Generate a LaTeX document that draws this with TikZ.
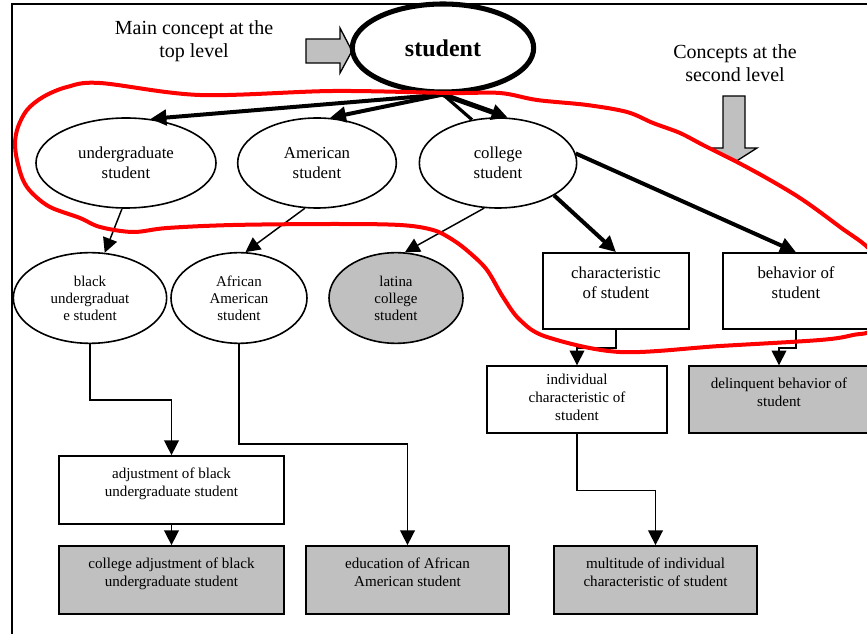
\documentclass[tikz,border=0pt]{standalone}
\usepackage{fontspec}
\setmainfont{Liberation Serif}
\usetikzlibrary{shapes.geometric,arrows.meta}
\definecolor{silver}{HTML}{C0C0C0}
\tikzset{
  base/.style={align=center, inner sep=0pt, font=\fontsize{12.6}{15}\selectfont},
  concept/.style={base, ellipse, draw, line width=1.2pt, fill=white},
  subconcept/.style={concept, font=\fontsize{11.2}{12.75}\selectfont},
  topic/.style={base, rectangle, draw, line width=1.3pt, fill=white, text depth=12pt},
  subtopic/.style={topic, font=\fontsize{11.3}{13.5}\selectfont},
  leaf/.style={subtopic, fill=silver},
  link/.style={-{Triangle[length=11pt,width=11pt]}, line width=1.1pt},
  strong/.style={-{Triangle[length=12pt,width=11.5pt]}, line width=3pt},
  pointer/.style={draw, line width=1pt, fill=silver},
  note/.style={align=center, font=\fontsize{15}{17.5}\selectfont}
}
\begin{document}
\begin{tikzpicture}[x=0.75pt,y=-0.75pt]
  \useasboundingbox (0,0) rectangle (867,634);
  \clip (0,0) rectangle (867,634);
  \draw[line width=1.5pt] (12,640) -- (12,4) -- (870,4);

  % main concept
  \node[note] (maintxt) at (194,41) {Main concept at the\\top level};
  \draw[pointer] (306,39) -- (340,39) -- (340,28) -- (352,51) -- (340,73) -- (340,63) -- (306,63) -- cycle;
  \node[base, ellipse, draw, line width=3.8pt, minimum width=136pt, minimum height=66pt,
        font=\fontsize{18}{20}\selectfont\bfseries] (student) at (443,48) {student};

  % second level
  \node[note] (secondtxt) at (735,63) {Concepts at the\\second level};
  \draw[pointer] (723,96) -- (745,96) -- (745,148) -- (757,148) -- (735,162) -- (712,148) -- (723,148) -- cycle;
  \node[concept, minimum width=135pt, minimum height=67.5pt] (ug) at (126,163) {undergraduate\\student};
  \node[concept, minimum width=119pt, minimum height=67.5pt] (am) at (317,163) {American\\student};
  \node[concept, minimum width=118pt, minimum height=67.5pt] (col) at (498,163) {college\\student};

  \draw[strong] (student.south) -- (ug.61);
  \draw[strong] (student.south) -- (am.74);
  \draw[line width=2.4pt] (student.south) -- (col.121);
  \draw[strong, line width=3.8pt] (student.south) -- (col.78);

  % third level
  \foreach \name/\x/\w/\fill/\lab in {bug/90/115/white/{black\\undergraduat\\e student},
      aam/239/102/white/{African\\American\\student}, lat/396/100.5/silver/{latina\\college\\student}}
    \node[subconcept, fill=\fill, minimum width=\w pt, minimum height=68pt] (\name) at (\x,298) {\lab};
  \node[topic, minimum width=109.5pt, minimum height=57pt] (chr) at (616,291) {characteristic\\of student};
  \node[topic, minimum width=109.5pt, minimum height=57pt] (beh) at (796,291) {behavior of\\student};

  \draw[link] (ug.265) -- (bug.72);
  \draw[link] (am.255) -- (aam.82);
  \draw[link] (col.253) -- (lat.79);
  \draw[strong] (col.-30) -- (chr.north);
  \draw[strong] (col.7) -- (beh.north);

  % lower levels
  \node[subtopic, minimum width=135pt, minimum height=50pt, text depth=3pt] (ind) at (577,399.5) {individual\\characteristic of\\student};
  \node[leaf, minimum width=135pt, minimum height=50pt, text depth=11pt] (del) at (779,399.5) {delinquent behavior of\\student};
  \node[subtopic, minimum width=169pt, minimum height=51pt] (adj) at (171.5,490) {adjustment of black\\undergraduate student};
  \node[leaf, minimum width=169pt, minimum height=51pt] (cadj) at (171.5,580) {college adjustment of black\\undergraduate student};
  \node[leaf, minimum width=152pt, minimum height=51pt] (edu) at (407.5,580) {education of African\\American student};
  \node[leaf, minimum width=152pt, minimum height=51pt] (mul) at (655.5,580) {multitude of individual\\characteristic of student};

  \draw[link] (chr.south) -- ++(0,18) -| (ind.north);
  \draw[link] (beh.south) -- ++(0,18) -| (del.north);
  \draw[link] (bug.south) -- ++(0,56) -| (adj.north);
  \draw[link] (adj.south) -- (cadj.north);
  \draw[link] (aam.south) -- ++(0,100) -| (edu.north);
  \draw[link] (ind.south) -- ++(0,57) -| (mul.north);

  % red outline round the second level
  \draw[red, line width=3pt] plot[smooth cycle, tension=0.55] coordinates {
    (875,328) (853,335) (820,340) (720,346) (620,352) (547,337) (520,320) (503,297)
    (487,270) (470,253) (453,240) (433,230) (400,225) (333,224) (233,225) (167,228)
    (133,232) (100,227) (80,218) (50,207) (32,193) (23,180) (17,160) (15,143) (18,127)
    (27,110) (43,97) (67,87) (100,83) (200,95) (333,91) (450,93) (500,93) (537,100)
    (587,105) (627,112) (653,123) (680,133) (703,145) (737,162) (770,180) (803,200)
    (840,227) (872,252) (890,290)};
\end{tikzpicture}
\end{document}
